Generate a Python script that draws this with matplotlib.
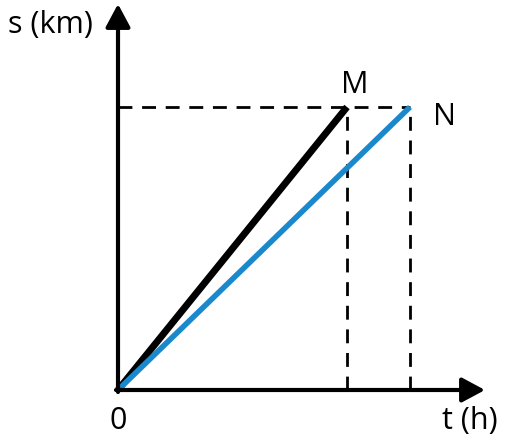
import matplotlib.pyplot as plt

# positions (arbitrary units, origin at 0)
t_M = 2.29
t_N = 2.92
s_end = 2.83
x_axis_end = 3.67
y_axis_end = 3.86

labels = {"s": "s (km)", "t": "t (h)", "M": "M", "N": "N", "O": "0"}

plt.rcParams['font.family'] = ['Open Sans', 'DejaVu Sans']

fig = plt.figure(figsize=(5.08, 4.44), dpi=100)
ax = fig.add_axes([0, 0, 1, 1])
ax.set_xlim(-1.18, 3.90)
ax.set_ylim(-0.54, 3.90)
ax.axis('off')

# dashed guide lines
dash = dict(color='black', lw=2.0, dashes=(5, 3.5))
ax.plot([0, t_N], [s_end, s_end], **dash)
ax.plot([t_M, t_M], [0, s_end], **dash)
ax.plot([t_N, t_N], [0, s_end], **dash)

# axes with arrows
arrow = dict(arrowstyle='-|>,head_length=1.4,head_width=0.75', color='black', lw=3.0,
             shrinkA=0, shrinkB=0)
ax.annotate('', xy=(x_axis_end, 0), xytext=(-0.02, 0), arrowprops=arrow)
ax.annotate('', xy=(0, y_axis_end), xytext=(0, -0.02), arrowprops=arrow)

# the two motion lines
ax.plot([0, t_M], [0, s_end], color='black', lw=5.0, solid_capstyle='butt')
ax.plot([0, t_N], [0, s_end], color='#1a88cc', lw=4.0, solid_capstyle='butt')

fs = 22
ax.text(-0.25, 3.65, labels["s"], fontsize=fs, ha='right', va='center')
ax.text(t_M + 0.08, s_end + 0.22, labels["M"], fontsize=fs, ha='center', va='center')
ax.text(t_N + 0.35, s_end - 0.105, labels["N"], fontsize=fs, ha='center', va='center')
ax.text(0, -0.31, labels["O"], fontsize=fs, ha='center', va='center')
ax.text(3.52, -0.31, labels["t"], fontsize=fs, ha='center', va='center')

fig.savefig('out.png', dpi=100)
